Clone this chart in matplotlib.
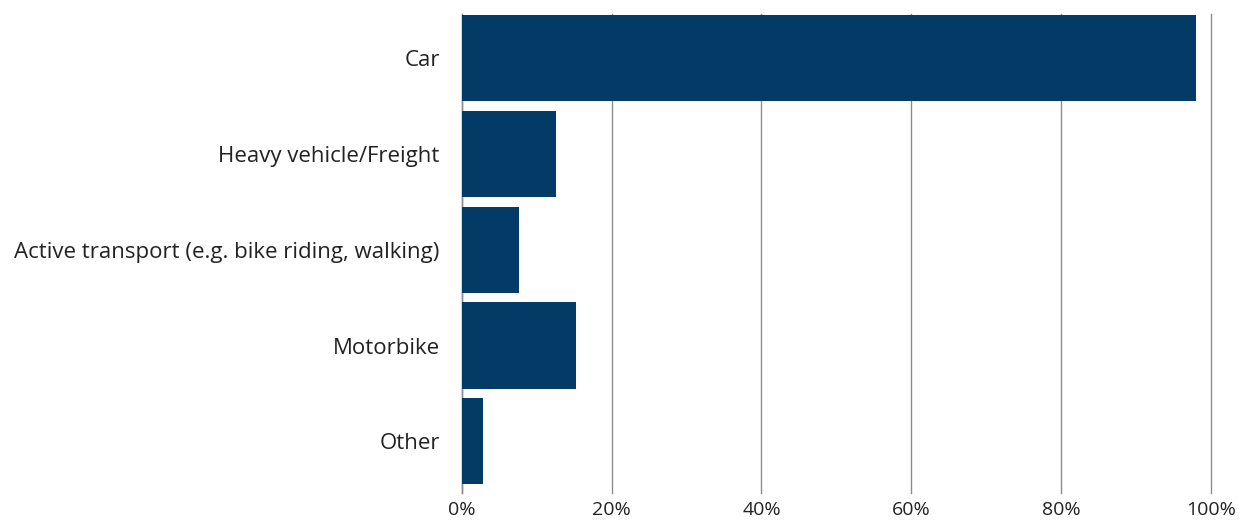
import matplotlib.pyplot as plt
from matplotlib.ticker import FuncFormatter

categories = ["Car", "Heavy vehicle/Freight", "Active transport (e.g. bike riding, walking)",
              "Motorbike", "Other"]
shares = [98.0, 12.5, 7.6, 15.2, 2.8]
xticks = [0, 20, 40, 60, 80, 100]

plt.rcParams['font.family'] = ['Open Sans', 'DejaVu Sans']

fig = plt.figure(figsize=(12.52, 5.24), dpi=100)
ax = fig.add_axes([0.369, 0.059, 0.598, 0.914])

ax.barh(range(len(categories)), shares, height=0.9, color="#013b66", zorder=3)

ax.set_xlim(0, 100)
ax.set_ylim(4.54, -0.46)
ax.set_yticks(range(len(categories)))
ax.set_yticklabels(categories, fontsize=16, color="#222222")
ax.set_xticks(xticks)
ax.xaxis.set_major_formatter(FuncFormatter(lambda v, p: f"{v:.0f}%"))
ax.tick_params(axis='x', labelsize=14, colors="#222222", length=0, pad=6)
ax.tick_params(axis='y', length=0, pad=16)

ax.grid(axis='x', color="#8c8c8c", linewidth=1, zorder=0)
for line in ax.get_xgridlines():
    line.set_clip_on(False)
for s in ["top", "right", "bottom"]:
    ax.spines[s].set_visible(False)
ax.spines["left"].set_color("#8c8c8c")
ax.spines["left"].set_linewidth(1)

fig.savefig("out.png", dpi=100)
